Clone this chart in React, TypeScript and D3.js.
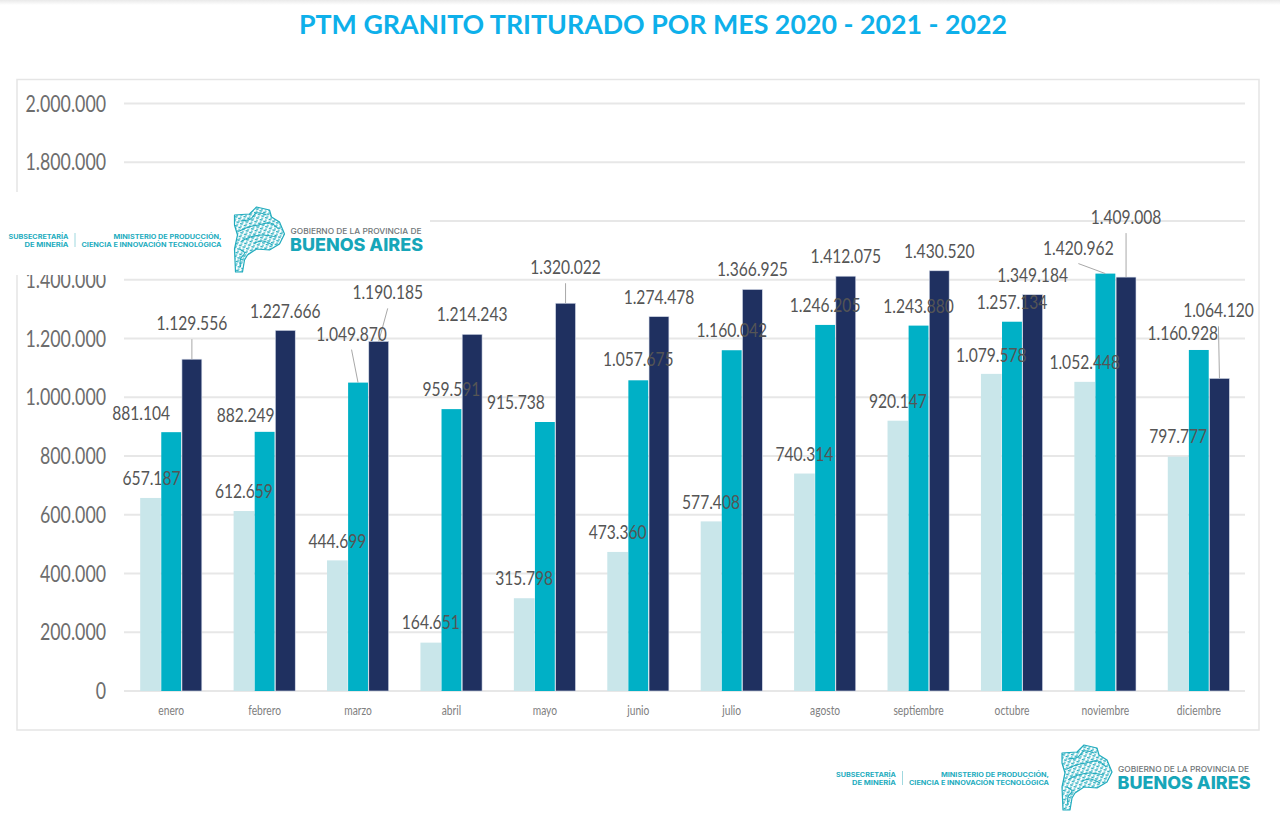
import React from "react";
import * as d3 from "d3";

const months = ["enero","febrero","marzo","abril","mayo","junio","julio","agosto","septiembre","octubre","noviembre","diciembre"];
const years = ["2020","2021","2022"];
const values2020 = [657187,612659,444699,164651,315798,473360,577408,740314,920147,1079578,1052448,797777];
const values2021 = [881104,882249,1049870,959591,915738,1057675,1160042,1246205,1243880,1257134,1420962,1160928];
const values2022 = [1129556,1227666,1190185,1214243,1320022,1274478,1366925,1412075,1430520,1349184,1409008,1064120];
const yTicks = [0,200000,400000,600000,800000,1000000,1200000,1400000,1600000,1800000,2000000];
const series = [values2020, values2021, values2022];
const barColors = ["#c9e6ea","#00b0c6","#1f3060"];

// Manual label displacement relative to the top centre of each bar (layout, not data)
const labelDx = [
  [1,0,0,0,0,0,0,0,0,0,0,0],
  [-30,-19,-6.5,0,-29,0,0,0,0,0,-27,-16],
  [0,0,9,0,0,0,0,0,0,0,0,-1],
];
const labelDy = [
  [-20,-20,-19,-20.5,-20,-20,-19.5,-20,-20,-19,-20,-21],
  [-19,-17,-49,-20,-20,-21,-20,-20,-20,-20,-26,-17],
  [-36,-19,-49,-20,-36,-20,-20,-20,-20,-20,-60,-68],
];
const leaders: [number, number][] = [[1,2],[1,10],[2,0],[2,2],[2,4],[2,10],[2,11]];
const mapOutline: [number, number][] = [[0,8],[15,7],[22,0],[35,3],[37,10],[45,15],[50,27],[45,37],[35,43],[22,42],[13,48],[10,53],[8,65],[1,65],[0,42],[3,28],[0,18]];
const mapDetails: [number, number][][] = [
  [[6,14],[16,12],[22,6],[32,8]],
  [[5,24],[14,20],[24,18],[36,16],[44,22]],
  [[7,34],[16,30],[28,28],[42,30]],
  [[20,36],[28,34],[38,38]],
  [[5,42],[10,46],[6,52],[6,60]],
];

const fmt = (v: number) => d3.format(",")(v).replace(/,/g, ".");
const y = d3.scaleLinear().domain([0, 2000000]).range([691, 103.5]);
const x0 = d3.scaleBand().domain(months).range([124.5, 1245.5]).paddingInner(0.336).paddingOuter(0.168);
const x1 = d3.scaleBand().domain(years).range([0, x0.bandwidth()]);
const sans = "Lato, 'Open Sans', sans-serif";
const logoFont = "Inter, 'Noto Sans', sans-serif";
const mapLine = d3.line().curve(d3.curveLinearClosed);
const detailLine = d3.line().curve(d3.curveCatmullRom);

function Squeezed({ x, y: yy, size, k, fill, anchor = "middle", children }: any) {
  return (
    <text transform={`translate(${x},${yy}) scale(${k},1)`} textAnchor={anchor} fontFamily={sans} fontSize={size} fill={fill} dy="0.36em">
      {children}
    </text>
  );
}

function Logo({ dx, dy }: { dx: number; dy: number }) {
  const teal = "#22acbe";
  const small = { fontFamily: logoFont, fontSize: 6.4, fontWeight: 700, fill: teal, lengthAdjust: "spacingAndGlyphs" } as any;
  return (
    <g transform={`translate(${dx},${dy})`}>
      <text x={836} y={776.5} textLength={60} {...small}>SUBSECRETARÍA</text>
      <text x={852} y={784.5} textLength={44} {...small}>DE MINERÍA</text>
      <line x1={902.5} x2={902.5} y1={771} y2={785} stroke="#9fd8df" strokeWidth={1} />
      <text x={941} y={776.5} textLength={108} {...small}>MINISTERIO DE PRODUCCIÓN,</text>
      <text x={909} y={784.5} textLength={140} {...small}>CIENCIA E INNOVACIÓN TECNOLÓGICA</text>
      <g transform="translate(1062,745)">
        <path d={mapLine(mapOutline) as string} fill="url(#mapHatch)" stroke={teal} strokeWidth={1.2} strokeLinejoin="round" />
        {mapDetails.map((d, i) => (
          <path key={i} d={detailLine(d) as string} fill="none" stroke={teal} strokeWidth={1.1} />
        ))}
      </g>
      <text x={1118} y={772} textLength={131} lengthAdjust="spacingAndGlyphs" fontFamily={logoFont} fontSize={8} fontWeight={500} fill="#6f7678">GOBIERNO DE LA PROVINCIA DE</text>
      <text x={1117.5} y={788.5} textLength={133} lengthAdjust="spacingAndGlyphs" fontFamily={logoFont} fontSize={17.5} fontWeight={800} fill="#17a6b9">BUENOS AIRES</text>
    </g>
  );
}

export default function App() {
  return (
    <svg width={1280} height={818} viewBox="0 0 1280 818" style={{ position: "absolute", left: 0, top: 0, display: "block", background: "#fff" }}>
      <defs>
        <pattern id="mapHatch" width={4} height={4} patternUnits="userSpaceOnUse" patternTransform="rotate(25)">
          <rect width={4} height={4} fill="#ffffff" />
          <rect width={2.6} height={1.2} fill="#22acbe" />
          <rect y={2} x={1.4} width={1.2} height={2} fill="#22acbe" />
        </pattern>
        <linearGradient id="topShade" x1="0" x2="0" y1="0" y2="1">
          <stop offset="0" stopColor="#e9e9e9" />
          <stop offset="1" stopColor="#ffffff" />
        </linearGradient>
      </defs>
      <rect x={0} y={0} width={1280} height={5} fill="url(#topShade)" />
      <text x={653} y={34} textAnchor="middle" textLength={708} lengthAdjust="spacingAndGlyphs" fontFamily={sans} fontWeight={700} fontSize={26} fill="#0eb0ea">
        PTM GRANITO TRITURADO POR MES 2020 - 2021 - 2022
      </text>

      <rect x={17} y={79.5} width={1242} height={650.5} fill="none" stroke="#e5e5e5" strokeWidth={1.5} />

      {yTicks.map((t) => (
        <line key={t} x1={124} x2={1245} y1={y(t)} y2={y(t)} stroke="#e7e7e7" strokeWidth={2} />
      ))}
      {yTicks.map((t) => (
        <Squeezed key={t} x={106} y={y(t)} size={22.5} k={0.79} fill="#6d6d6d" anchor="end">{fmt(t)}</Squeezed>
      ))}

      {months.map((m, i) => (
        <g key={m}>
          {series.map((vals, s) => {
            const bx = (x0(m) as number) + (x1(years[s]) as number);
            return (
              <rect key={s} x={bx + (s === 0 ? 0 : 0.4)} y={y(vals[i])} width={x1.bandwidth() - (s === 0 ? 0 : 0.8)} height={y(0) - y(vals[i])}
                fill={barColors[s]} stroke={s === 2 ? "#d6dcea" : "none"} strokeWidth={s === 2 ? 0.6 : 0} />
            );
          })}
          <Squeezed x={(x0(m) as number) + x0.bandwidth() / 2} y={710} size={12.5} k={0.82} fill="#808080">{m}</Squeezed>
        </g>
      ))}

      <rect x={0} y={192} width={430} height={83} fill="#ffffff" />
      <Logo dx={-827.5} dy={-538} />
      <Logo dx={0} dy={0} />

      {leaders.map(([s, i]) => {
        const m = months[i];
        const bx = (x0(m) as number) + (x1(years[s]) as number) + x1.bandwidth() / 2;
        const top = y(series[s][i]);
        return (
          <line key={`${s}-${i}`} x1={bx + labelDx[s][i]} y1={top + labelDy[s][i] + 16} x2={bx} y2={top} stroke="#a8a8a8" strokeWidth={1} />
        );
      })}

      {series.map((vals, s) =>
        vals.map((v, i) => {
          const bx = (x0(months[i]) as number) + (x1(years[s]) as number) + x1.bandwidth() / 2;
          return (
            <Squeezed key={`${s}-${i}`} x={bx + labelDx[s][i]} y={y(v) + labelDy[s][i]} size={19.5} k={0.8} fill="#555555">{fmt(v)}</Squeezed>
          );
        })
      )}
    </svg>
  );
}
